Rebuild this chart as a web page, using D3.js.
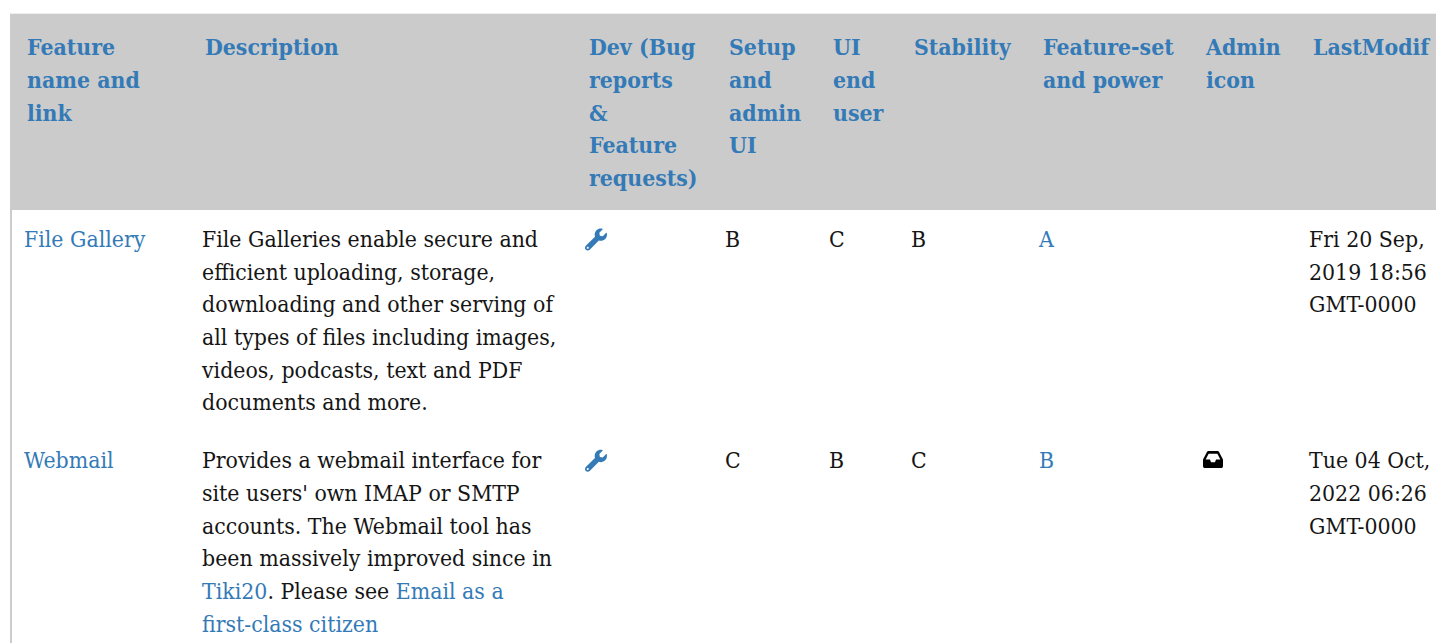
<!DOCTYPE html>
<html>
<head>
<meta charset="utf-8">
<script src="https://cdnjs.cloudflare.com/ajax/libs/d3/7.8.5/d3.min.js"></script>
<style>
  html, body { margin: 0; padding: 0; background: #fff; overflow: hidden; }
  text { font-family: "DejaVu Serif", serif; font-size: 21.6px; }
</style>
</head>
<body>
<div id="canvas"></div>
<script>
const canvas = d3.select("#canvas");

const width = 1436;
const height = 643;

const columns = ["name", "desc", "dev", "setup", "ui", "stability", "power", "admin", "modif"];

const headers = [
  ["Feature", "name and", "link"],
  ["Description"],
  ["Dev (Bug", "reports", "&", "Feature", "requests)"],
  ["Setup", "and", "admin", "UI"],
  ["UI", "end", "user"],
  ["Stability"],
  ["Feature-set", "and power"],
  ["Admin", "icon"],
  ["LastModif"],
];

const features = ["File Gallery", "Webmail"];
const setupGrades = ["B", "C"];
const uiGrades = ["C", "B"];
const stabilityGrades = ["B", "C"];
const powerGrades = ["A", "B"];
const adminIcons = [null, "inbox"];
const lastModif = [
  ["Fri 20 Sep,", "2019 18:56", "GMT-0000"],
  ["Tue 04 Oct,", "2022 06:26", "GMT-0000"],
];
// [text, isLink] runs for each wrapped line
const descriptions = [
  [
    [["File Galleries enable secure and", false]],
    [["efficient uploading, storage,", false]],
    [["downloading and other serving of", false]],
    [["all types of files including images,", false]],
    [["videos, podcasts, text and PDF", false]],
    [["documents and more.", false]],
  ],
  [
    [["Provides a webmail interface for", false]],
    [["site users' own IMAP or SMTP", false]],
    [["accounts. The Webmail tool has", false]],
    [["been massively improved since in", false]],
    [["Tiki20", true], [". Please see ", false], ["Email as a", true]],
    [["first-class citizen", true]],
  ],
];

const linkColor = "#337ab7";
const textColor = "#151515";
// the glyphs in the picture are a bit narrower than the plain font
const squeeze = 0.951;

const headX = d3.scaleOrdinal().domain(columns).range([27, 205, 589, 729, 833, 914, 1043, 1206, 1313]);
const cellX = d3.scaleOrdinal().domain(columns).range([24, 202, 585, 725, 829, 911, 1039, 1202, 1309]);
const rowY = d3.scaleOrdinal().domain(features).range([246.9, 468.2]);
const lineH = d3.scaleLinear().domain([0, 1]).range([0, 32.7]);
const headLineY = d3.scaleLinear().domain([0, 1]).range([55.2, 87.9]);

const place = (x, y) => `translate(${x},${y}) scale(${squeeze},1)`;

const svg = canvas.append("svg").attr("width", width).attr("height", height).style("display", "block");

svg.append("rect").attr("x", 10).attr("y", 13).attr("width", width).attr("height", 1).attr("fill", "#eeeeee");
svg.append("rect").attr("x", 10).attr("y", 14).attr("width", 2).attr("height", height).attr("fill", "#cccccc");
svg.append("rect").attr("x", 11).attr("y", 14).attr("width", width).attr("height", 196).attr("fill", "#cbcbcb");

// header cells
columns.forEach((col, i) => {
  svg.append("g").selectAll("text").data(headers[i]).enter().append("text")
    .attr("transform", (d, j) => place(headX(col), headLineY(j)))
    .attr("fill", linkColor)
    .attr("font-weight", "bold")
    .text((d) => d);
});

const wrench = "M507.73 109.1c-2.24-9.03-13.54-12.09-20.12-5.51l-74.36 74.36-67.88-11.31-11.31-67.88 74.36-74.36c6.62-6.62 3.43-17.9-5.66-20.16-47.38-11.74-99.55.91-136.58 37.93-39.64 39.64-50.55 97.1-34.05 147.2L18.74 402.76c-24.99 24.99-24.99 65.51 0 90.5 24.99 24.99 65.51 24.99 90.5 0l213.21-213.21c50.12 16.71 107.47 5.68 147.37-34.22 37.07-37.07 49.7-89.32 37.91-136.73zM64 472c-13.25 0-24-10.75-24-24 0-13.26 10.75-24 24-24s24 10.74 24 24c0 13.25-10.75 24-24 24z";
const inbox = "M567.938 243.908L462.25 85.374A48.003 48.003 0 0 0 422.311 64H153.689a48 48 0 0 0-39.938 21.374L8.062 243.908A47.994 47.994 0 0 0 0 270.533V400c0 26.51 21.49 48 48 48h480c26.51 0 48-21.49 48-48V270.533a47.994 47.994 0 0 0-8.062-26.625zM162.252 128h251.497l85.333 128H376l-32 64H232l-32-64H76.918l85.334-128z";

function cellText(col, name, value, color) {
  svg.append("text").attr("transform", place(cellX(col), rowY(name))).attr("fill", color).text(value);
}

// body rows
features.forEach((name, i) => {
  const y = rowY(name);
  cellText("name", name, name, linkColor);

  const lines = svg.append("g").selectAll("text").data(descriptions[i]).enter().append("text")
    .attr("transform", (d, j) => place(cellX("desc"), y + lineH(j)))
    .attr("fill", textColor);
  lines.selectAll("tspan").data((d) => d).enter().append("tspan")
    .attr("fill", (d) => (d[1] ? linkColor : textColor))
    .text((d) => d[0]);

  svg.append("path").attr("d", wrench).attr("fill", linkColor)
    .attr("transform", `translate(${cellX("dev")},${y - 18.4}) scale(${22 / 512})`);

  cellText("setup", name, setupGrades[i], textColor);
  cellText("ui", name, uiGrades[i], textColor);
  cellText("stability", name, stabilityGrades[i], textColor);
  cellText("power", name, powerGrades[i], linkColor);

  if (adminIcons[i] === "inbox") {
    svg.append("path").attr("d", inbox).attr("fill", "#000")
      .attr("transform", `translate(${cellX("admin") + 1},${y - 20}) scale(${20 / 576},${17 / 384})`);
  }

  svg.append("g").selectAll("text").data(lastModif[i]).enter().append("text")
    .attr("transform", (d, j) => place(cellX("modif"), y + lineH(j)))
    .attr("fill", textColor)
    .text((d) => d);
});
</script>
</body>
</html>
